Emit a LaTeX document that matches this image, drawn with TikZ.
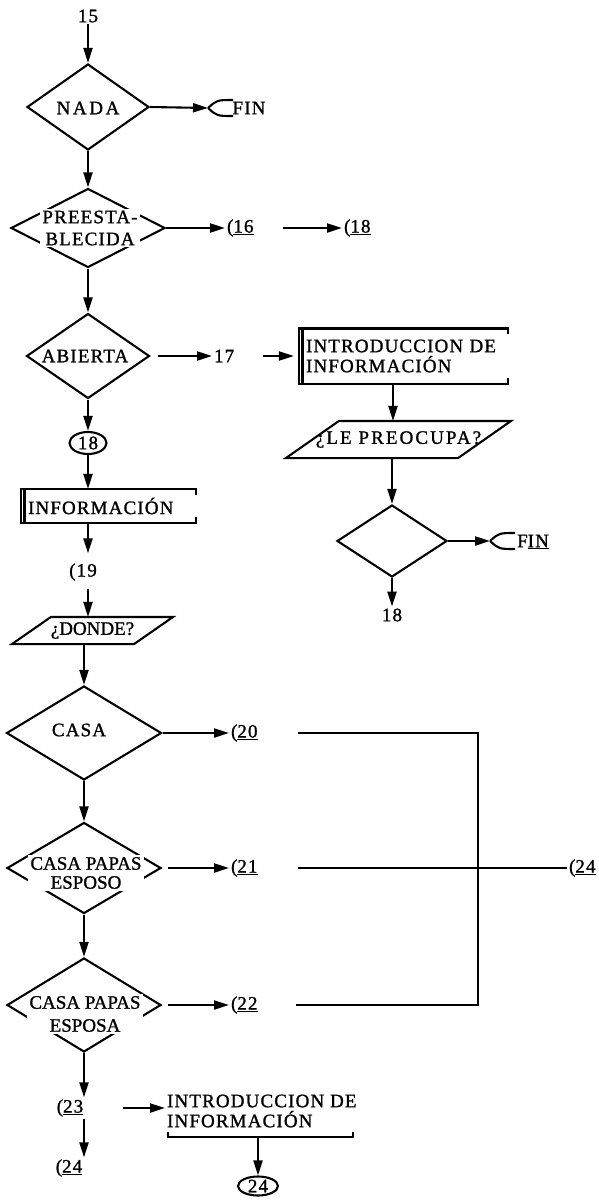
\documentclass[tikz,border=0pt]{standalone}
\usepackage{fontspec}
\setmainfont{Liberation Serif}[LetterSpace=6,FakeBold=1.2]
\newfontfamily\tightf{Liberation Serif}[LetterSpace=0,FakeBold=1.2]
\newfontfamily\widef{Liberation Serif}[LetterSpace=14,FakeBold=1.2]
\newfontfamily\medf{Liberation Serif}[LetterSpace=11,FakeBold=1.2]
\usetikzlibrary{arrows.meta,shapes.geometric,calc}
\newcommand\procedges[1]{%
  \draw ([yshift=-6pt]#1.north east) -- (#1.north east) -- (#1.north west) -- (#1.south west) -- (#1.south east) -- ([yshift=6pt]#1.south east);
  \draw ([xshift=3.5pt]#1.north west) -- ([xshift=3.5pt]#1.south west);}
\tikzset{
  arr/.style={-{Triangle[length=15pt,width=9pt]}},
  dia/.style={diamond, draw, inner sep=0pt},
  lbl/.style={fill=white, inner sep=2pt, align=center, font=\fontsize{19}{22}\selectfont},
  tlbl/.style={fill=white, inner sep=2pt, align=center, font=\tightf\fontsize{19}{19}\selectfont},
  txt/.style={inner sep=1pt, font=\fontsize{19}{22}\selectfont},
  procbox/.style={inner sep=0pt, inner xsep=6pt, align=left, font=\fontsize{19}{20}\selectfont},
}
\begin{document}
\begin{tikzpicture}[x=1pt, y=-1pt, line width=2.1pt]
\useasboundingbox (0,0) rectangle (599,1203);
\fill[white] (0,0) rectangle (599,1203);

% ---- main column, top part ----
\node[txt] (n15) at (88,16) {15};
\node[dia, minimum width=122pt, minimum height=86pt] (nada) at (88,107) {};
\node[lbl, font=\widef\fontsize{19}{22}\selectfont] (nadaT) at (88,108) {NADA};
\draw[arr] (n15.south -| nada.north) -- (nada.north);

\node[txt] (fin1) at (249,108) {FIN};
\coordinate (fin1tip) at (208,108);
\draw (fin1tip) .. controls (217,100) .. (233,100);
\draw (fin1tip) .. controls (217,116) .. (233,116);
\draw[arr] (nada.east) -- (fin1tip);

\node[dia, minimum width=154pt, minimum height=79pt] (pre) at (88,228) {};
\node[lbl] (preT) at (90,228) {PREESTA-\\BLECIDA};
\draw[arr] (nada.south) -- (pre.north);
\node[txt, anchor=west] (c16) at (225,228) {(\underline{16}};
\node[txt, anchor=west] (c18a) at (342,228) {(\underline{18}};
\draw[arr] (pre.east) -- (c16.west);
\draw[arr, shorten <=27pt] (c16.east) -- (c18a.west);

\node[dia, minimum width=123pt, minimum height=85pt] (abi) at (88,356) {};
\node[lbl] (abiT) at (85,356) {ABIERTA};
\draw[arr] (pre.south) -- (abi.north);
\node[txt, anchor=west] (c17) at (212,356) {17};
\draw[arr, shorten <=7pt] (abi.east) -- (c17.west);

% ---- right column ----
\node[procbox, minimum width=207pt, minimum height=53pt, text width=195pt] (intro1) at (403.5,356) {INTRODUCCION DE\\INFORMACIÓN};
\procedges{intro1}
\draw[arr, shorten <=27pt, shorten >=5pt] (c17.east) -- (intro1.west);
\coordinate (colR) at (393,0);
\node[inner sep=0pt, minimum width=223pt, minimum height=35pt, font=\medf\fontsize{19}{22}\selectfont] (preoc) at (398.5,439.5) {¿LE PREOCUPA?};
\draw ($(preoc.north west)+(53,0)$) -- (preoc.north east) -- ($(preoc.south east)+(-53,0)$) -- (preoc.south west) -- cycle;
\draw[arr] (intro1.south -| colR) -- (preoc.north -| colR);
\node[dia, minimum width=110pt, minimum height=72pt] (dia2) at (392,541) {};
\draw[arr] (preoc.south -| dia2.north) -- (dia2.north);
\node[txt] (fin2) at (533,542) {F\underline{IN}};
\coordinate (fin2tip) at (490,541);
\draw (fin2tip) .. controls (499,533) .. (515,533);
\draw (fin2tip) .. controls (499,549) .. (515,549);
\draw[arr] (dia2.east) -- (fin2tip);
\node[txt] (c18b) at (392,615) {18};
\draw[arr] (dia2.south) -- (c18b.north);

% ---- main column, middle ----
\node[ellipse, draw, minimum width=37pt, minimum height=22pt, inner sep=0pt, font=\fontsize{19}{22}\selectfont] (c18) at (88,443) {18};
\draw[arr] (abi.south) -- (c18.north);
\node[procbox, minimum width=173pt, minimum height=32pt, text width=161pt] (info) at (108.5,506) {INFORMACIÓN};
\procedges{info}
\draw[arr] (c18.south) -- (info.north -| c18.south);
\node[txt] (c19) at (83,572) {(19};
\draw[arr, shorten >=8pt] (info.south -| c18.south) -- (c19.north -| c18.south);
\node[inner sep=0pt, minimum width=159pt, minimum height=25pt, font=\tightf\fontsize{19}{22}\selectfont] (donde) at (92.5,630.5) {¿DONDE?};
\draw ($(donde.north west)+(39,0)$) -- (donde.north east) -- ($(donde.south east)+(-39,0)$) -- (donde.south west) -- cycle;
\draw[arr, shorten <=6pt] (c19.south -| c18.south) -- (donde.north -| c18.south);

% ---- lower part ----
\node[dia, minimum width=155pt, minimum height=94pt] (casa) at (84,733) {};
\node[lbl] (casaT) at (79,730) {CASA};
\draw[arr] (donde.south -| casa.north) -- (casa.north);
\node[txt, anchor=west] (c20) at (229,733) {(\underline{20}};
\draw[arr] (casa.east) -- (c20.west);

\node[dia, minimum width=154pt, minimum height=91pt] (eso) at (84,868) {};
\node[tlbl] (esoT) at (86,873) {CASA PAPAS\\ESPOSO};
\draw[arr] (casa.south) -- (eso.north);
\node[txt, anchor=west] (c21) at (229,868) {(\underline{21}};
\draw[arr, shorten <=6pt] (eso.east) -- (c21.west);

\node[dia, minimum width=154pt, minimum height=94pt] (esa) at (84,1005) {};
\node[tlbl, font=\tightf\fontsize{19}{23}\selectfont] (esaT) at (85,1014) {CASA PAPAS\\ESPOSA};
\draw[arr] (eso.south) -- (esa.north);
\node[txt, anchor=west] (c22) at (229,1005) {(\underline{22}};
\draw[arr, shorten <=6pt] (esa.east) -- (c22.west);

\coordinate (vline) at (478,0);
\node[txt, anchor=west] (c24r) at (567,868) {(\underline{24}};
\draw[shorten <=38pt, shorten >=36pt] (c20.east) -- (c20.east -| vline) -- (c22.east -| vline) -- (c22.east);
\draw[shorten <=38pt] (c21.east) -- (c24r.west);

\node[txt] (c23) at (70,1108) {(\underline{23}};
\draw[arr] (esa.south) -- (c23.north -| esa.south);
\node[txt, anchor=west, align=left, font=\fontsize{19}{20}\selectfont] (intro2) at (165,1111) {INTRODUCCION DE\\INFORMACIÓN};
\draw[arr, shorten <=38pt] (c23.east) -- (c23.east -| intro2.west);
\draw (168,1132) -- (168,1137) -- (353,1137) -- (353,1132);
\coordinate (br) at (258,1137);
\node[ellipse, draw, minimum width=40pt, minimum height=19pt, inner sep=0pt, font=\fontsize{19}{22}\selectfont] (e24) at (258,1186) {24};
\draw[arr] (br) -- (e24.north);
\node[txt] (c24b) at (69,1168) {(\underline{24}};
\draw[arr] (c23.south -| esa.south) -- (c24b.north -| esa.south);
\end{tikzpicture}
\end{document}
